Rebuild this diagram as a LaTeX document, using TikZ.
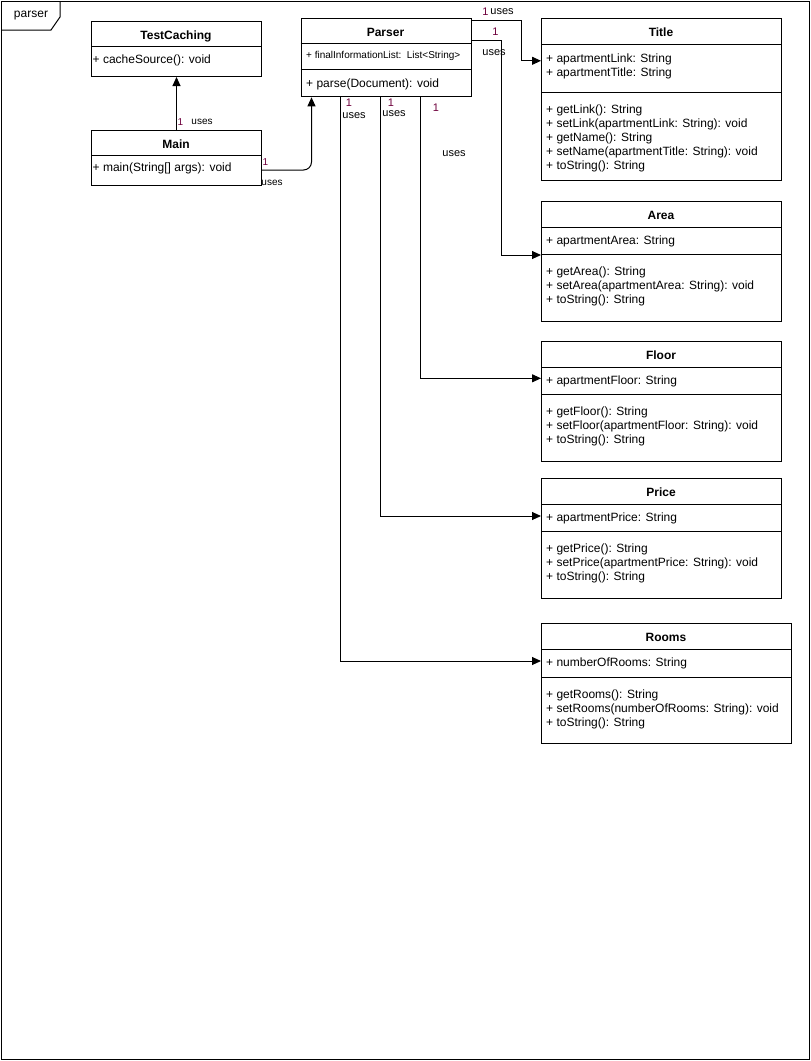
\documentclass[tikz,border=0pt]{standalone}
\usepackage{fontspec}
\setmainfont{Liberation Sans}
\usetikzlibrary{arrows.meta,calc}
\definecolor{multcol}{RGB}{110,0,60}

% horizontal compartment line inside a class box, #2 units below its top
\newcommand\classdivider[2]{%
  \draw[line width=1pt] ($(#1.north west)+(0,#2)$) -- ($(#1.north east)+(0,#2)$);}

\begin{document}
\begin{tikzpicture}[x=1pt,y=-1pt,
  classbox/.style={draw, line width=1pt, rectangle, anchor=north west, inner sep=0pt},
  classname/.style={anchor=base, inner sep=0pt, font=\fontsize{12}{14}\selectfont\bfseries},
  members/.style={anchor=north west, inner sep=0pt, align=left, font=\fontsize{12}{14}\selectfont},
  smallmembers/.style={anchor=north west, inner sep=0pt, align=left, font=\fontsize{10}{12}\selectfont},
  uses/.style={draw, line width=1pt, -{Triangle[length=9pt,width=8pt]}},
  multlabel/.style={inner sep=0pt, text=multcol, font=\fontsize{11}{13}\selectfont},
  useslabel/.style={inner sep=0pt, font=\fontsize{11}{13}\selectfont},
  smallmult/.style={multlabel, font=\fontsize{10}{12}\selectfont},
  smalluses/.style={useslabel, font=\fontsize{10}{12}\selectfont}]

\useasboundingbox (0,0) rectangle (811,1061);

% package frame with its name tab
\node[classbox, minimum width=808pt, minimum height=1058pt] (frame) at (1,1) {};
\draw[line width=1pt] (1,30) -- (51,30) -- (60,17) -- (60,1);
\node[inner sep=0pt, font=\fontsize{12}{14}\selectfont] (framename) at (31,15.5) {parser};

% TestCaching
\node[classbox, minimum width=170pt, minimum height=55pt] (testcaching) at (91,21) {};
\classdivider{testcaching}{25.5}
\node[classname] (testcachingname) at (176,39.3) {TestCaching};
\node[members] (testcachingops) at (92.5,54.5) {+ cacheSource(): void};

% Main
\node[classbox, minimum width=170pt, minimum height=55pt] (main) at (91,130) {};
\classdivider{main}{25}
\node[classname] (mainname) at (176,148.3) {Main};
\node[members] (mainops) at (92.5,162.5) {+ main(String[] args): void};

% Parser
\node[classbox, minimum width=170pt, minimum height=78pt] (parser) at (300.5,18.3) {};
\classdivider{parser}{25}
\classdivider{parser}{51}
\node[classname] (parsername) at (385.5,36.6) {Parser};
\node[smallmembers] (parserattrs) at (306,51.4) {+ finalInformationList:\, List<String>};
\node[members] (parserops) at (306,78.5) {+ parse(Document): void};

% Title
\node[classbox, minimum width=240pt, minimum height=162pt] (title) at (541,18.3) {};
\classdivider{title}{26}
\classdivider{title}{74}
\node[classname] (titlename) at (661,36.6) {Title};
\node[members] (titleattrs) at (546,53.5) {+ apartmentLink: String\\+ apartmentTitle: String};
\node[members] (titleops) at (546,104.5) {+ getLink(): String\\+ setLink(apartmentLink: String): void\\+ getName(): String\\+ setName(apartmentTitle: String): void\\+ toString(): String};

% Area
\node[classbox, minimum width=240pt, minimum height=120pt] (area) at (541,201) {};
\classdivider{area}{26}
\classdivider{area}{53}
\node[classname] (areaname) at (661,219.3) {Area};
\node[members] (areaattrs) at (546,235.5) {+ apartmentArea: String};
\node[members] (areaops) at (546,266.5) {+ getArea(): String\\+ setArea(apartmentArea: String): void\\+ toString(): String};

% Floor
\node[classbox, minimum width=240pt, minimum height=120pt] (floor) at (541,341) {};
\classdivider{floor}{26}
\classdivider{floor}{53}
\node[classname] (floorname) at (661,359.3) {Floor};
\node[members] (floorattrs) at (546,375.5) {+ apartmentFloor: String};
\node[members] (floorops) at (546,406.5) {+ getFloor(): String\\+ setFloor(apartmentFloor: String): void\\+ toString(): String};

% Price
\node[classbox, minimum width=240pt, minimum height=120pt] (price) at (541,478) {};
\classdivider{price}{26}
\classdivider{price}{53}
\node[classname] (pricename) at (661,496.3) {Price};
\node[members] (priceattrs) at (546,512.5) {+ apartmentPrice: String};
\node[members] (priceops) at (546,543.5) {+ getPrice(): String\\+ setPrice(apartmentPrice: String): void\\+ toString(): String};

% Rooms
\node[classbox, minimum width=250pt, minimum height=120pt] (rooms) at (541,623) {};
\classdivider{rooms}{26}
\classdivider{rooms}{54}
\node[classname] (roomsname) at (666,641.3) {Rooms};
\node[members] (roomsattrs) at (546,657.5) {+ numberOfRooms: String};
\node[members] (roomsops) at (546,689.5) {+ getRooms(): String\\+ setRooms(numberOfRooms: String): void\\+ toString(): String};

% associations
\draw[uses] (main.north) -- (testcaching.south);
\node[smallmult] (m1) at (180.5,121.7) {1};
\node[smalluses] (u1) at (202,121.7) {uses};

\draw[uses, rounded corners=8pt] ($(main.north east)+(0,40)$) -| ($(parser.south west)+(11,0)$);
\node[smallmult] (m2) at (265.5,162) {1};
\node[smalluses] (u2) at (272,182.5) {uses};

\draw[uses] ($(parser.north east)+(0,2)$) -- ++(50,0) |- ($(title.north west)+(0,42.5)$);
\node[multlabel] (m3) at (485.5,11.7) {1};
\node[useslabel] (u3) at (502,12) {uses};

\draw[uses] ($(parser.north east)+(0,22)$) -- ++(30,0) |- ($(area.north west)+(0,54)$);
\node[multlabel] (m4) at (495.5,32) {1};
\node[useslabel] (u4) at (494,52.5) {uses};

\draw[uses] ($(parser.south west)+(120,0)$) |- ($(floor.north west)+(0,37.3)$);
\node[multlabel] (m5) at (436,108) {1};
\node[useslabel] (u5) at (454,154) {uses};

\draw[uses] ($(parser.south west)+(79.5,0)$) |- ($(price.north west)+(0,38)$);
\node[multlabel] (m6) at (391,103) {1};
\node[useslabel] (u6) at (394,114) {uses};

\draw[uses] ($(parser.south west)+(40,0)$) |- ($(rooms.north west)+(0,38)$);
\node[multlabel] (m7) at (349,103) {1};
\node[useslabel] (u7) at (354,115.5) {uses};

\end{tikzpicture}
\end{document}
